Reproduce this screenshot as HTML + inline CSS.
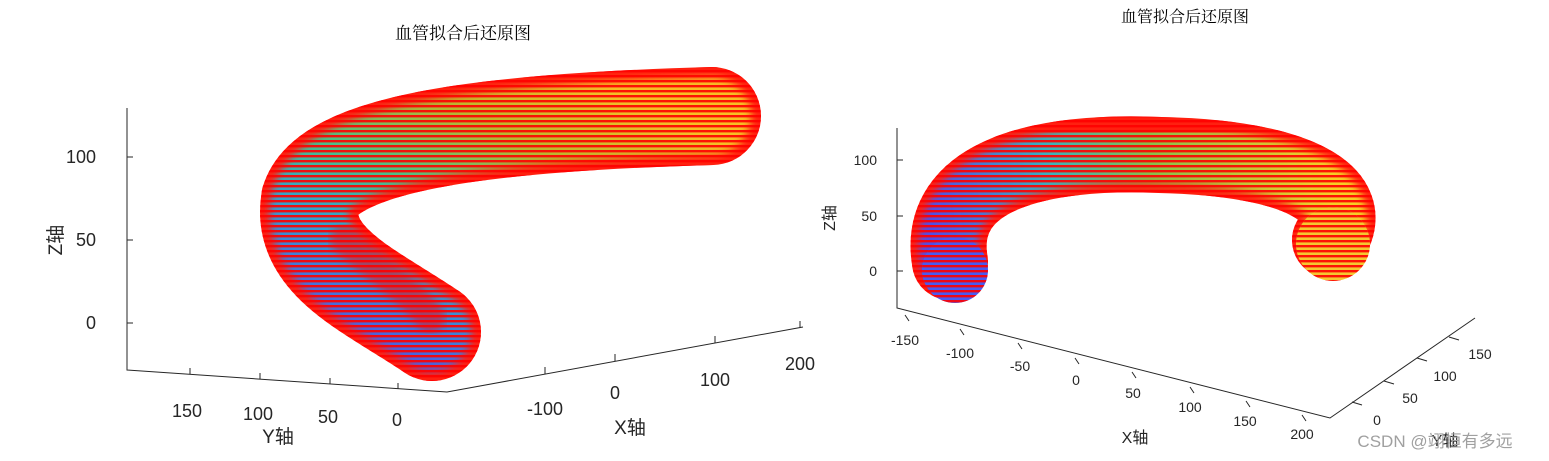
<!DOCTYPE html>
<html><head><meta charset="utf-8"><style>
html,body{margin:0;padding:0;background:#fff;width:1549px;height:461px;overflow:hidden}
text{font-family:"Liberation Sans","Noto Sans CJK SC",sans-serif;fill:#262626}
.t{font-family:"Noto Serif CJK SC","Liberation Serif",serif;fill:#000}
</style></head><body>
<svg width="1549" height="461" viewBox="0 0 1549 461" xmlns="http://www.w3.org/2000/svg">
<defs>
<linearGradient id="g1" gradientUnits="userSpaceOnUse" x1="400" y1="380" x2="560" y2="60">
<stop offset="0" stop-color="#4a50f0"/><stop offset="0.3" stop-color="#2aa8d8"/><stop offset="0.5" stop-color="#40c890"/><stop offset="0.75" stop-color="#b8c030"/><stop offset="1" stop-color="#f8c828"/>
</linearGradient>
<linearGradient id="g2" gradientUnits="userSpaceOnUse" x1="940" y1="290" x2="1340" y2="240">
<stop offset="0" stop-color="#4a50f0"/><stop offset="0.3" stop-color="#30b8c8"/><stop offset="0.55" stop-color="#80c850"/><stop offset="1" stop-color="#f8d828"/>
</linearGradient>
<pattern id="st" width="5" height="5" patternUnits="userSpaceOnUse"><rect width="5" height="2.4" fill="#ff0000" opacity="0.9"/></pattern>
<filter id="bl" x="-20%" y="-20%" width="140%" height="140%"><feGaussianBlur stdDeviation="4"/></filter>
</defs>
<text class="t" x="463" y="39" font-size="17" text-anchor="middle">血管拟合后还原图</text>
<g stroke="#262626" stroke-width="1" fill="none">
<path d="M127 108 V370 L447 392 L803 327"/>
<path d="M127 157h6M127 240h6M127 323h6"/>
<path d="M190 374v-6M260 379v-6M330 384v-6M398 389v-6"/>
<path d="M545 374v-7M615 361v-7M715 343v-7M800 328v-7"/>
</g>
<g font-size="18">
<text x="96" y="163" text-anchor="end">100</text>
<text x="96" y="246" text-anchor="end">50</text>
<text x="96" y="329" text-anchor="end">0</text>
<text x="172" y="417">150</text><text x="243" y="420">100</text><text x="318" y="423">50</text><text x="392" y="426">0</text>
<text x="545" y="415" text-anchor="middle">-100</text><text x="615" y="399" text-anchor="middle">0</text><text x="715" y="386" text-anchor="middle">100</text><text x="800" y="370" text-anchor="middle">200</text>
</g>
<text x="278" y="443" font-size="19" text-anchor="middle">Y轴</text>
<text x="630" y="434" font-size="19" text-anchor="middle">X轴</text>
<text x="62" y="240" font-size="19" text-anchor="middle" transform="rotate(-90 62 240)">Z轴</text>
<g fill="none" stroke-linecap="round">
<path d="M432 332 C370 290,300 262,310 200 C330 140,500 122,712 116" stroke="#ff2010" stroke-width="98"/>
<path d="M432 332 C370 290,300 262,310 200 C330 140,500 122,712 116" stroke="url(#g1)" stroke-width="78" opacity="0.95" filter="url(#bl)"/>
<path d="M432 332 C370 290,300 262,310 200 C330 140,500 122,712 116" stroke="url(#st)" stroke-width="98"/>
<path d="M345 240 C380 272,415 295,430 318" stroke="#ff0000" stroke-width="30" opacity="0.5" filter="url(#bl)"/>
</g>
<text class="t" x="1185" y="22" font-size="16" text-anchor="middle">血管拟合后还原图</text>
<g stroke="#262626" stroke-width="1" fill="none">
<path d="M897 128 V308 L1330 418 L1475 318"/>
<path d="M897 160h6M897 216h6M897 271h6"/>
<path d="M905 315l4 6M960 329l4 6M1018 343l4 6M1075 358l4 6M1132 372l4 6M1190 387l4 6M1246 401l4 6M1302 415l4 6"/>
<path d="M1352 402l10 3M1384 381l10 3M1417 358l10 3M1449 337l10 3"/>
</g>
<g font-size="14">
<text x="877" y="165" text-anchor="end">100</text><text x="877" y="221" text-anchor="end">50</text><text x="877" y="276" text-anchor="end">0</text>
<text x="905" y="345" text-anchor="middle">-150</text><text x="960" y="358" text-anchor="middle">-100</text><text x="1020" y="371" text-anchor="middle">-50</text><text x="1076" y="385" text-anchor="middle">0</text><text x="1133" y="398" text-anchor="middle">50</text><text x="1190" y="412" text-anchor="middle">100</text><text x="1245" y="426" text-anchor="middle">150</text><text x="1302" y="439" text-anchor="middle">200</text>
<text x="1377" y="425" text-anchor="middle">0</text><text x="1410" y="403" text-anchor="middle">50</text><text x="1445" y="381" text-anchor="middle">100</text><text x="1480" y="359" text-anchor="middle">150</text>
</g>
<text x="1135" y="443" font-size="16" text-anchor="middle">X轴</text>
<text x="1445" y="446" font-size="16" text-anchor="middle">Y轴</text>
<text x="835" y="218" font-size="16" text-anchor="middle" transform="rotate(-90 835 218)">Z轴</text>
<g fill="none" stroke-linecap="round">
<path d="M950 262 C935 175,1040 150,1160 155 C1300 158,1360 195,1330 240" stroke="#ff2010" stroke-width="76"/>
<path d="M950 262 C935 175,1040 150,1160 155 C1300 158,1360 195,1330 240" stroke="url(#g2)" stroke-width="58" opacity="0.95" filter="url(#bl)"/>
<path d="M950 262 C935 175,1040 150,1160 155 C1300 158,1360 195,1330 240" stroke="url(#st)" stroke-width="76"/>
</g>
<circle cx="955" cy="270" r="33" fill="#4a5af0"/><circle cx="955" cy="270" r="33" fill="url(#st)"/>
<circle cx="1333" cy="244" r="37" fill="#f5c830"/><circle cx="1333" cy="244" r="37" fill="url(#st)"/>
<text x="1435" y="447" font-size="17" style="fill:#a0a0a0" text-anchor="middle">CSDN @翊恒有多远</text>
</svg>
</body></html>
